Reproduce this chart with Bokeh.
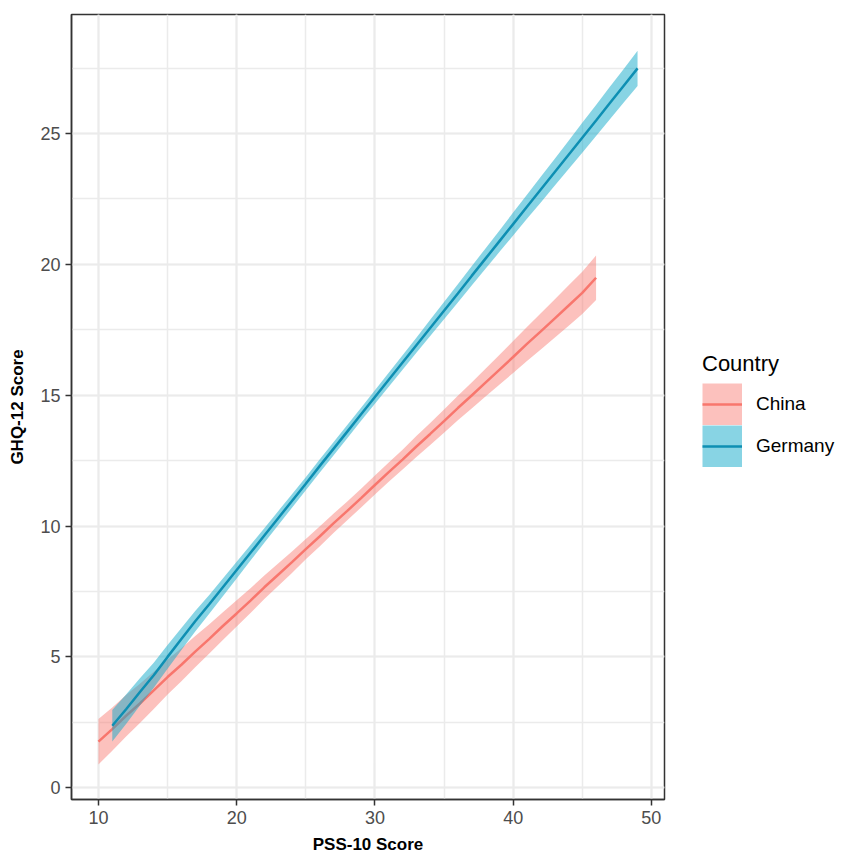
from bokeh.plotting import figure
from bokeh.layouts import row
from bokeh.models import (Range1d, SingleIntervalTicker, Legend, LegendItem,
                          ColumnDataSource)
from bokeh.embed import file_html
from bokeh.resources import INLINE

# ---- data ----
china_pss = list(range(10, 47))
china_fit = [1.76, 2.24, 2.75, 3.22, 3.72, 4.23, 4.70, 5.20, 5.68, 6.18,
             6.66, 7.15, 7.66, 8.14, 8.62, 9.12, 9.60, 10.10, 10.58, 11.07,
             11.57, 12.06, 12.54, 13.04, 13.52, 14.01, 14.51, 14.99, 15.48,
             15.97, 16.46, 16.96, 17.44, 17.93, 18.42, 18.91, 19.49]
china_ci = [0.87, 0.83, 0.79, 0.75, 0.71, 0.67, 0.63, 0.60, 0.56, 0.53,
            0.50, 0.47, 0.45, 0.43, 0.41, 0.39, 0.38, 0.37, 0.36, 0.36,
            0.36, 0.37, 0.38, 0.40, 0.42, 0.44, 0.47, 0.50, 0.53, 0.57,
            0.61, 0.65, 0.69, 0.73, 0.77, 0.81, 0.85]

germany_pss = list(range(11, 50))
germany_fit = [2.37, 3.00, 3.66, 4.30, 5.00, 5.68, 6.36, 7.00, 7.66, 8.32,
               8.98, 9.64, 10.30, 10.96, 11.62, 12.29, 12.95, 13.61, 14.27,
               14.93, 15.59, 16.25, 16.91, 17.57, 18.23, 18.89, 19.56, 20.22,
               20.88, 21.54, 22.20, 22.86, 23.52, 24.18, 24.84, 25.50, 26.17,
               26.83, 27.49]
germany_ci = [0.60, 0.56, 0.52, 0.48, 0.45, 0.42, 0.39, 0.36, 0.34, 0.32,
              0.30, 0.28, 0.27, 0.26, 0.25, 0.25, 0.25, 0.25, 0.25, 0.26,
              0.27, 0.28, 0.29, 0.31, 0.33, 0.35, 0.37, 0.39, 0.41, 0.44,
              0.46, 0.49, 0.51, 0.54, 0.57, 0.59, 0.62, 0.64, 0.67]

countries = ["China", "Germany"]
line_colors = ["#F8766D", "#0E8FB3"]
band_colors = ["#F8766D", "#12A9C9"]
band_alphas = [0.45, 0.5]

FONT = "Liberation Sans"

p = figure(width=668, height=857, output_backend="svg", toolbar_location=None,
           x_range=Range1d(8.05, 50.95), y_range=Range1d(-0.45, 29.55),
           min_border_left=71, min_border_right=4, min_border_top=14,
           min_border_bottom=58)
p.background_fill_color = "white"
p.border_fill_color = "white"
p.outline_line_color = "#333333"
p.outline_line_width = 1.5

p.xaxis.ticker = SingleIntervalTicker(interval=10, num_minor_ticks=2)
p.yaxis.ticker = SingleIntervalTicker(interval=5, num_minor_ticks=2)

for ax in (p.xaxis, p.yaxis):
    ax.axis_line_color = "#333333"
    ax.axis_line_width = 1.5
    ax.major_tick_line_color = "#333333"
    ax.major_tick_line_width = 1.5
    ax.major_tick_in = 0
    ax.major_tick_out = 6
    ax.minor_tick_line_color = None
    ax.major_label_text_font = FONT
    ax.major_label_text_font_size = "18px"
    ax.major_label_text_color = "#4D4D4D"
    ax.major_label_standoff = 5
    ax.axis_label_text_font = FONT
    ax.axis_label_text_font_size = "17px"
    ax.axis_label_text_font_style = "bold"
    ax.axis_label_text_color = "#000000"

p.xaxis.axis_label = "PSS-10 Score"
p.yaxis.axis_label = "GHQ-12 Score"
p.xaxis.axis_label_standoff = 8
p.yaxis.axis_label_standoff = 10

for g in (p.xgrid, p.ygrid):
    g.grid_line_color = "#EBEBEB"
    g.grid_line_width = 2
    g.minor_grid_line_color = "#EBEBEB"
    g.minor_grid_line_width = 1.5

# legend panel (separate figure, no axes)
lf = figure(width=176, height=857, output_backend="svg", toolbar_location=None,
            x_range=Range1d(0, 1), y_range=Range1d(0, 1),
            min_border=0, x_axis_type=None, y_axis_type=None)
lf.outline_line_color = None
lf.grid.visible = False
lf.background_fill_color = "white"
lf.border_fill_color = "white"

KEY_W, KEY_H = 40, 42
items = []
series = [(china_pss, china_fit, china_ci), (germany_pss, germany_fit, germany_ci)]
for i, (xs, fit, ci) in enumerate(series):
    src = ColumnDataSource(dict(
        x=xs, y=fit,
        lo=[f - c for f, c in zip(fit, ci)],
        hi=[f + c for f, c in zip(fit, ci)]))
    p.varea(x="x", y1="lo", y2="hi", source=src,
            fill_color=band_colors[i], fill_alpha=band_alphas[i])
    p.line(x="x", y="y", source=src, line_color=line_colors[i], line_width=2.5)
    # hidden legend proxies in the legend panel: a wide translucent stroke
    # fills the whole key box, a thin stroke draws the line
    kb = lf.line(x="x", y="y", source=src, line_color=band_colors[i],
                 line_alpha=band_alphas[i], line_width=KEY_H,
                 line_cap="butt", visible=False)
    kl = lf.line(x="x", y="y", source=src, line_color=line_colors[i],
                 line_width=2.5, visible=False)
    items.append(LegendItem(label=countries[i], renderers=[kb, kl]))

legend = Legend(items=items, location=(34, 332), title="Country",
                title_text_font=FONT, title_text_font_size="22px",
                title_text_font_style="normal", title_text_color="#000000",
                title_standoff=6,
                label_text_font=FONT, label_text_font_size="19px",
                label_text_color="#000000",
                glyph_width=KEY_W, glyph_height=KEY_H, label_standoff=14,
                spacing=0, padding=0, margin=0,
                border_line_color=None, background_fill_alpha=0)
lf.add_layout(legend, "center")

layout = row(p, lf, spacing=0)
open("out.html", "w").write(file_html(layout, INLINE))
